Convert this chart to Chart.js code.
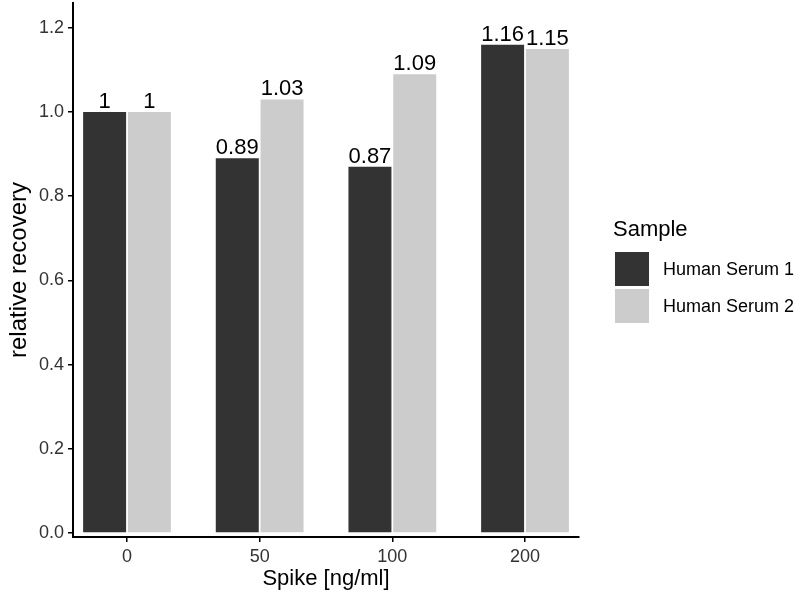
<!DOCTYPE html>
<html>
<head>
<meta charset="utf-8">
<title>Relative recovery</title>
<script src="https://cdn.jsdelivr.net/npm/chart.js@4.4.1/dist/chart.umd.min.js"></script>
<style>
  body { margin: 0; background: #fff; }
  #wrap { width: 800px; height: 600px; }
</style>
</head>
<body>
<div id="wrap"><canvas id="recoveryChart" width="800" height="600"></canvas></div>
<script>
// values
const spikes = ['0', '50', '100', '200'];
const serum1 = [1, 0.89, 0.87, 1.16];
const serum2 = [1, 1.03, 1.09, 1.15];
const sampleNames = ['Human Serum 1', 'Human Serum 2'];
const yTicks = [0, 0.2, 0.4, 0.6, 0.8, 1.0, 1.2];

const FONT = '"Liberation Sans", Arial, sans-serif';
const fills = ['#333333', '#cccccc'];

// value labels on top of each bar
const barLabels = {
    id: 'barLabels',
    afterDatasetsDraw(chart) {
        const ctx = chart.ctx;
        ctx.save();
        ctx.font = '22px ' + FONT;
        ctx.fillStyle = '#000';
        ctx.textAlign = 'center';
        ctx.textBaseline = 'alphabetic';
        chart.data.datasets.forEach((ds, di) => {
            chart.getDatasetMeta(di).data.forEach((bar, i) => {
                ctx.fillText(String(ds.data[i].y), bar.x, bar.y - 4);
            });
        });
        ctx.restore();
    }
};

// ggplot style legend on the right side
const sideLegend = {
    id: 'sideLegend',
    afterDraw(chart) {
        const ctx = chart.ctx;
        ctx.save();
        ctx.fillStyle = '#000';
        ctx.font = '22px ' + FONT;
        ctx.textBaseline = 'alphabetic';
        ctx.fillText('Sample', 613, 236);
        ctx.font = '18px ' + FONT;
        ctx.textBaseline = 'middle';
        chart.data.datasets.forEach((ds, i) => {
            const top = 252 + i * 37;
            ctx.fillStyle = ds.backgroundColor;
            ctx.fillRect(615, top, 34, 34);
            ctx.fillStyle = '#000';
            ctx.fillText(ds.label, 663, top + 18);
        });
        ctx.restore();
    }
};

new Chart(document.getElementById('recoveryChart'), {
    type: 'bar',
    data: {
        datasets: [
            { label: sampleNames[0], data: serum1.map((v, i) => ({ x: i, y: v })), backgroundColor: fills[0] },
            { label: sampleNames[1], data: serum2.map((v, i) => ({ x: i, y: v })), backgroundColor: fills[1] }
        ]
    },
    options: {
        responsive: false,
        animation: false,
        layout: { padding: { top: 3, right: 221, left: 0, bottom: 0 } },
        categoryPercentage: 0.675,
        barPercentage: 0.96,
        plugins: { legend: { display: false }, tooltip: { enabled: false } },
        scales: {
            x: {
                type: 'linear',
                offset: false,
                min: -0.407,
                max: 3.407,
                afterBuildTicks: s => { s.ticks = spikes.map((_, i) => ({ value: i })); },
                afterFit: s => { s.height = 63; s.paddingLeft = 0; s.paddingRight = 0; },
                ticks: {
                    callback: v => spikes[v],
                    font: { size: 18, family: FONT },
                    color: '#333',
                    padding: 4,
                    maxRotation: 0
                },
                grid: { offset: false, drawOnChartArea: false, drawTicks: true, tickLength: 5, color: '#000', lineWidth: 1.5 },
                border: { display: true, color: '#000', width: 2 },
                title: {
                    display: true,
                    text: 'Spike [ng/ml]',
                    font: { size: 22, family: FONT },
                    color: '#000',
                    padding: { top: 0, bottom: 8 }
                }
            },
            y: {
                min: -0.0095,
                max: 1.259,
                afterBuildTicks: s => { s.ticks = yTicks.map(v => ({ value: v })); },
                afterFit: s => { s.width = 73; s.paddingTop = 0; s.paddingBottom = 0; },
                ticks: {
                    callback: v => v.toFixed(1),
                    font: { size: 18, family: FONT },
                    color: '#333',
                    padding: 4
                },
                grid: { drawOnChartArea: false, drawTicks: true, tickLength: 5, color: '#000', lineWidth: 1.5 },
                border: { display: true, color: '#000', width: 2 },
                title: {
                    display: true,
                    text: 'relative recovery',
                    font: { size: 24, family: FONT },
                    color: '#000',
                    padding: { top: 5, bottom: 0 }
                }
            }
        }
    },
    plugins: [barLabels, sideLegend]
});
</script>
</body>
</html>
